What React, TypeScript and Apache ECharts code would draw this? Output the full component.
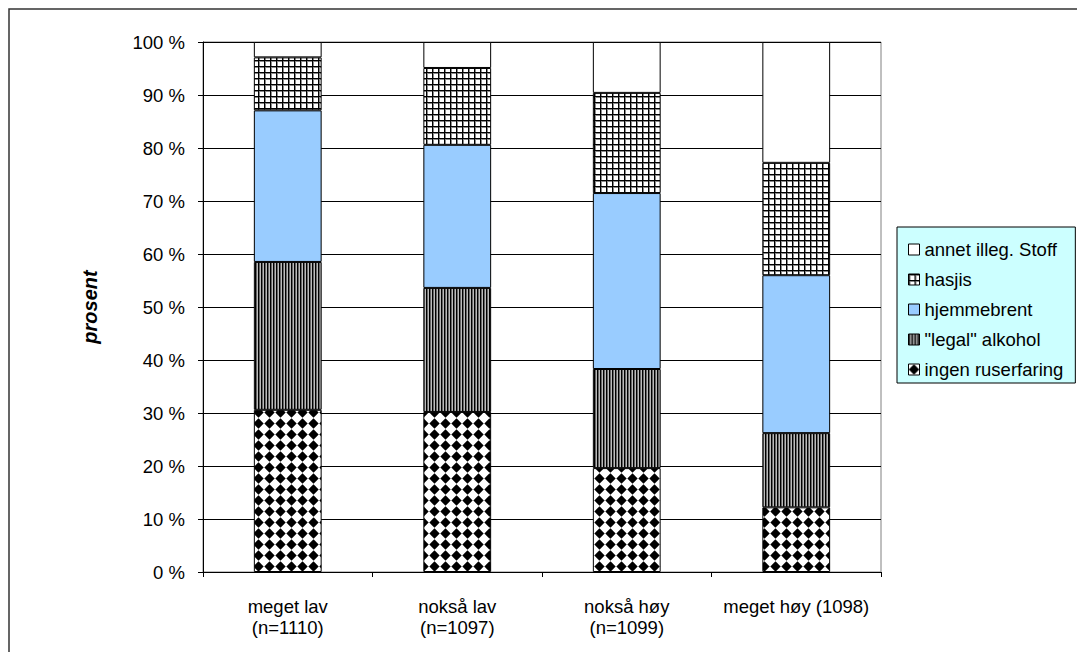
import React, { useEffect, useRef } from "react";
import * as echarts from "echarts";

const categories = [
  "meget lav\n(n=1110)",
  "nokså lav\n(n=1097)",
  "nokså høy\n(n=1099)",
  "meget høy (1098)",
];
const ingenRuserfaring = [30.6, 30.2, 19.6, 12.2];
const legalAlkohol = [27.9, 23.4, 18.7, 14.0];
const hjemmebrent = [28.6, 27.0, 33.2, 29.8];
const hasjis = [10.0, 14.5, 18.9, 21.2];
const annetIllegStoff = [2.9, 4.9, 9.6, 22.8];
const seriesNames = [
  "ingen ruserfaring",
  '"legal" alkohol',
  "hjemmebrent",
  "hasjis",
  "annet illeg. Stoff",
];
const legendOrder = [
  "annet illeg. Stoff",
  "hasjis",
  "hjemmebrent",
  '"legal" alkohol',
  "ingen ruserfaring",
];

const FONT = "'Liberation Sans', Arial, sans-serif";
const FS = 18.5;

function makePattern(w: number, h: number, draw: (ctx: CanvasRenderingContext2D) => void) {
  const c = document.createElement("canvas");
  c.width = w;
  c.height = h;
  const ctx = c.getContext("2d")!;
  draw(ctx);
  return { image: c.toDataURL(), imageWidth: w, imageHeight: h, repeat: "repeat" as const };
}

export default function App() {
  const ref = useRef<HTMLDivElement>(null);
  useEffect(() => {
    if (!ref.current) return;
    const chart = echarts.init(ref.current, undefined, { renderer: "svg" });

    const diamond = makePattern(11, 11, (ctx) => {
      ctx.fillStyle = "#fff";
      ctx.fillRect(0, 0, 11, 11);
      ctx.fillStyle = "#000";
      ctx.beginPath();
      ctx.moveTo(5.5, 0.3);
      ctx.lineTo(10.7, 5.5);
      ctx.lineTo(5.5, 10.7);
      ctx.lineTo(0.3, 5.5);
      ctx.closePath();
      ctx.fill();
    });
    const stripes = makePattern(3, 3, (ctx) => {
      ctx.fillStyle = "#000";
      ctx.fillRect(0, 0, 1, 3);
      ctx.fillStyle = "#666";
      ctx.fillRect(1, 0, 1, 3);
      ctx.fillStyle = "#bbb";
      ctx.fillRect(2, 0, 1, 3);
    });
    const grid = makePattern(6, 6, (ctx) => {
      ctx.fillStyle = "#fff";
      ctx.fillRect(0, 0, 6, 6);
      ctx.fillStyle = "#888";
      ctx.fillRect(1, 0, 1, 6);
      ctx.fillRect(0, 1, 6, 1);
      ctx.fillStyle = "#000";
      ctx.fillRect(0, 0, 1, 6);
      ctx.fillRect(0, 0, 6, 1);
    });

    const colors: any[] = [diamond, stripes, "#99ccff", grid, "#ffffff"];
    const values = [ingenRuserfaring, legalAlkohol, hjemmebrent, hasjis, annetIllegStoff];

    chart.setOption({
      animation: false,
      backgroundColor: "#fff",
      textStyle: { fontFamily: FONT, color: "#000" },
      grid: {
        left: 203,
        top: 42,
        right: 196,
        bottom: 80,
        show: true,
        borderColor: "#808080",
        borderWidth: 1,
      },
      legend: {
        orient: "vertical",
        left: 897,
        top: 227,
        data: legendOrder,
        backgroundColor: "#ccffff",
        borderColor: "#000",
        borderWidth: 1,
        padding: [13, 12, 4, 11],
        itemGap: 11,
        itemWidth: 11,
        itemHeight: 11,
        icon: "rect",
        itemStyle: { borderColor: "#000", borderWidth: 1 },
        textStyle: { fontSize: FS, fontFamily: FONT, color: "#000", lineHeight: 19 },
      },
      xAxis: {
        type: "category",
        data: categories,
        axisLine: { lineStyle: { color: "#000", width: 1 } },
        axisTick: { show: true, length: 5, lineStyle: { color: "#000" } },
        axisLabel: {
          interval: 0,
          fontSize: FS,
          fontFamily: FONT,
          color: "#000",
          lineHeight: 21,
          margin: 24,
        },
      },
      yAxis: {
        type: "value",
        min: 0,
        max: 100,
        interval: 10,
        name: "prosent",
        nameLocation: "middle",
        nameRotate: 90,
        nameGap: 103,
        nameTextStyle: {
          fontSize: 20,
          fontWeight: "bold",
          fontStyle: "italic",
          fontFamily: FONT,
          color: "#000",
        },
        axisLine: { show: true, lineStyle: { color: "#000", width: 1 } },
        axisTick: { show: true, length: 5, lineStyle: { color: "#000" } },
        axisLabel: {
          formatter: "{value} %",
          fontSize: FS,
          fontFamily: FONT,
          color: "#000",
          margin: 18,
        },
        splitLine: { show: true, lineStyle: { color: "#000", width: 1 } },
      },
      series: seriesNames.map((name, i) => ({
        name,
        type: "bar",
        stack: "total",
        barWidth: "40%",
        data: values[i],
        itemStyle: { color: colors[i], borderColor: "#000", borderWidth: 1 },
        emphasis: { disabled: true },
      })),
      graphic: [
        {
          type: "rect",
          shape: { x: 9, y: 9, width: 1200, height: 800 },
          style: { fill: "none", stroke: "#333", lineWidth: 1.5 },
          silent: true,
        },
      ],
    });
    return () => chart.dispose();
  }, []);
  return (
    <div
      ref={ref}
      style={{ position: "fixed", left: 0, top: 0, width: 1077, height: 652 }}
    />
  );
}
